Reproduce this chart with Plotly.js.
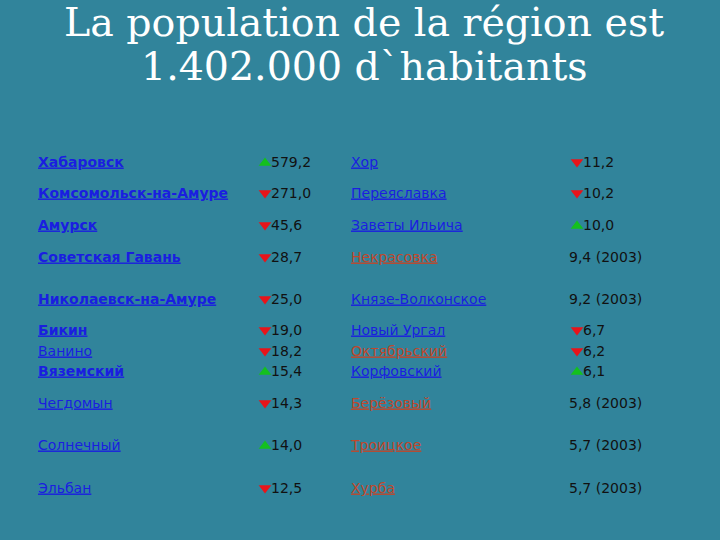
<!DOCTYPE html>
<html>
<head>
<meta charset="utf-8">
<script src="https://cdn.plot.ly/plotly-3.0.1.min.js"></script>
<style>
  html, body { margin: 0; padding: 0; background: #31849b; }
  #chart { width: 720px; height: 540px; }
</style>
</head>
<body>
<div id="chart"></div>
<script>
// Title lines
const titleLines = ['La population de la région est', '1.402.000 d`habitants'];

// Left half of the table: towns, population (thousands), trend
const leftTowns = ['Хабаровск', 'Комсомольск-на-Амуре', 'Амурск', 'Советская Гавань',
  'Николаевск-на-Амуре', 'Бикин', 'Ванино', 'Вяземский', 'Чегдомын', 'Солнечный', 'Эльбан'];
const leftBold = [true, true, true, true, true, true, false, true, false, false, false];
const leftValues = ['579,2', '271,0', '45,6', '28,7', '25,0', '19,0', '18,2', '15,4', '14,3', '14,0', '12,5'];
const leftTrend = ['up', 'down', 'down', 'down', 'down', 'down', 'down', 'up', 'down', 'up', 'down'];

// Right half of the table
const rightTowns = ['Хор', 'Переяславка', 'Заветы Ильича', 'Некрасовка', 'Князе-Волконское',
  'Новый Ургал', 'Октябрьский', 'Корфовский', 'Берёзовый', 'Троицкое', 'Хурба'];
const rightLinkType = ['blue', 'blue', 'blue', 'red', 'blue', 'blue', 'red', 'blue', 'red', 'red', 'red'];
const rightValues = ['11,2', '10,2', '10,0', '9,4 (2003)', '9,2 (2003)', '6,7', '6,2', '6,1',
  '5,8 (2003)', '5,7 (2003)', '5,7 (2003)'];
const rightTrend = ['down', 'down', 'up', '', '', 'down', 'down', 'up', '', '', ''];

// Layout (pixel grid of the slide)
const rowY = [162, 193, 225, 257, 299, 330, 351, 371, 403, 445, 488];
const textShift = 1;
const markShift = { up: 1, down: 0 };
const colX = { leftName: 38, leftMark: 265, leftVal: 271, rightName: 351, rightMark: 577, rightVal: 583, rightValNoMark: 569 };

const linkColors = { blue: '#1a1ee0', red: '#c0482c' };
const trendColors = { up: '#14c01e', down: '#e8141a' };
const tableFont = 'DejaVu Sans, Verdana, sans-serif';
const tableSize = 14;

const wrap = (s, bold) => '<u>' + (bold ? '<b>' + s + '</b>' : s) + '</u>';
const ty = rowY.map(y => y + textShift);

const traces = [];

// Town names, left column
traces.push({
  type: 'scatter', mode: 'text',
  x: leftTowns.map(() => colX.leftName), y: ty,
  text: leftTowns.map((t, i) => wrap(t, leftBold[i])),
  textposition: 'middle right',
  textfont: { family: tableFont, size: tableSize, color: linkColors.blue },
  hoverinfo: 'skip'
});

// Town names, right column
traces.push({
  type: 'scatter', mode: 'text',
  x: rightTowns.map(() => colX.rightName), y: ty,
  text: rightTowns.map(t => wrap(t, false)),
  textposition: 'middle right',
  textfont: { family: tableFont, size: tableSize, color: rightLinkType.map(k => linkColors[k]) },
  hoverinfo: 'skip'
});

// Values
traces.push({
  type: 'scatter', mode: 'text',
  x: leftValues.map(() => colX.leftVal), y: ty,
  text: leftValues,
  textposition: 'middle right',
  textfont: { family: tableFont, size: tableSize, color: '#111111' },
  hoverinfo: 'skip'
});
traces.push({
  type: 'scatter', mode: 'text',
  x: rightValues.map((v, i) => rightTrend[i] ? colX.rightVal : colX.rightValNoMark), y: ty,
  text: rightValues,
  textposition: 'middle right',
  textfont: { family: tableFont, size: tableSize, color: '#111111' },
  hoverinfo: 'skip'
});

// Trend markers
['up', 'down'].forEach(dir => {
  const xs = [], ys = [];
  leftTrend.forEach((t, i) => { if (t === dir) { xs.push(colX.leftMark); ys.push(rowY[i]); } });
  rightTrend.forEach((t, i) => { if (t === dir) { xs.push(colX.rightMark); ys.push(rowY[i]); } });
  traces.push({
    type: 'scatter', mode: 'markers',
    x: xs, y: ys.map(y => y + markShift[dir]),
    marker: { symbol: dir === 'up' ? 'triangle-up' : 'triangle-down', size: 11, color: trendColors[dir], line: { width: 0 } },
    hoverinfo: 'skip'
  });
});

const layout = {
  width: 720, height: 540,
  paper_bgcolor: '#31849b', plot_bgcolor: '#31849b',
  margin: { l: 0, r: 0, t: 0, b: 0 },
  showlegend: false,
  xaxis: { range: [0, 720], visible: false, fixedrange: true },
  yaxis: { range: [540, 0], visible: false, fixedrange: true },
  annotations: titleLines.map((t, i) => ({
    text: t, x: 364, y: [22, 66][i], xref: 'x', yref: 'y',
    showarrow: false, xanchor: 'center', yanchor: 'middle',
    font: { family: 'DejaVu Serif, Georgia, serif', size: 39.5, color: '#ffffff' }
  }))
};

Plotly.newPlot('chart', traces, layout, { displayModeBar: false, staticPlot: true });
</script>
</body>
</html>
